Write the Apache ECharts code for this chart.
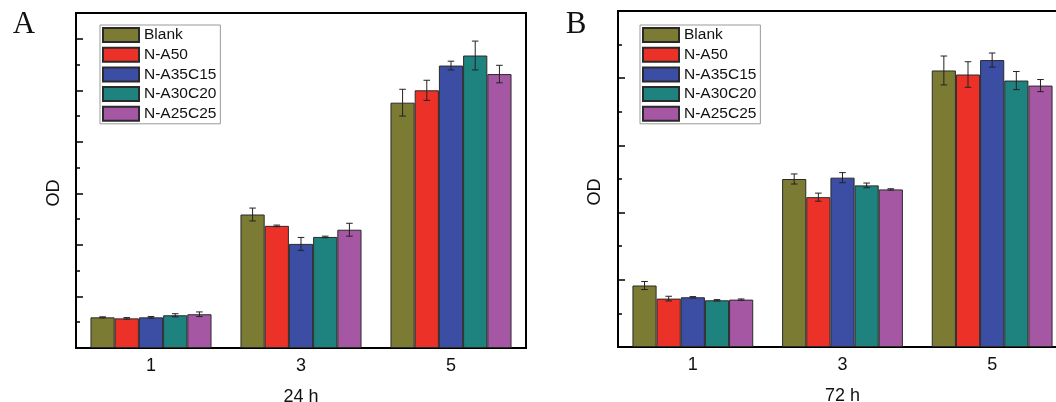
<!DOCTYPE html>
<html><head><meta charset="utf-8">
<script src="https://cdn.jsdelivr.net/npm/echarts@6/dist/echarts.min.js"></script>
<style>html,body{margin:0;padding:0;background:#fff}#c{width:1056px;height:402px}</style>
</head><body><div id="c"></div>
<script>
// ---- data ----
const days = ['1', '3', '5'];
const groupNames = ['Blank', 'N-A50', 'N-A35C15', 'N-A30C20', 'N-A25C25'];
const panelLabels = ['A', 'B'];
const xNames = ['24 h', '72 h'];
const yName = 'OD';

// Panel A (24 h) – OD values
const blank24 = [0.119, 0.518, 0.952];
const a50_24 = [0.115, 0.474, 1.000];
const a35c15_24 = [0.119, 0.404, 1.096];
const a30c20_24 = [0.127, 0.431, 1.135];
const a25c25_24 = [0.131, 0.459, 1.063];
const blank24Err = [0.002, 0.025, 0.052];
const a50_24Err = [0.003, 0.003, 0.039];
const a35c15_24Err = [0.003, 0.025, 0.017];
const a30c20_24Err = [0.006, 0.003, 0.056];
const a25c25_24Err = [0.009, 0.025, 0.034];

// Panel B (72 h) – OD values
const blank72 = [0.183, 0.500, 0.823];
const a50_72 = [0.144, 0.446, 0.811];
const a35c15_72 = [0.148, 0.504, 0.854];
const a30c20_72 = [0.139, 0.481, 0.793];
const a25c25_72 = [0.141, 0.469, 0.778];
const blank72Err = [0.012, 0.015, 0.043];
const a50_72Err = [0.007, 0.012, 0.038];
const a35c15_72Err = [0.002, 0.015, 0.021];
const a30c20_72Err = [0.002, 0.007, 0.027];
const a25c25_72Err = [0.002, 0.002, 0.018];

const vals24 = [blank24, a50_24, a35c15_24, a30c20_24, a25c25_24];
const errs24 = [blank24Err, a50_24Err, a35c15_24Err, a30c20_24Err, a25c25_24Err];
const vals72 = [blank72, a50_72, a35c15_72, a30c20_72, a25c25_72];
const errs72 = [blank72Err, a50_72Err, a35c15_72Err, a30c20_72Err, a25c25_72Err];

// ---- style ----
const colors = ['#7b7b34', '#ec3228', '#3b4ea4', '#1e827e', '#a657a3'];
const FONT = '"Liberation Sans", Arial, sans-serif';
const GAP = 0.193;
const N = groupNames.length;

const chart = echarts.init(document.getElementById('c'), null, {renderer: 'canvas'});

function errRender(k) {
  return function (params, api) {
    const x = api.value(0), v = api.value(1), e = api.value(2);
    const catW = api.size([1, 0])[0];
    const barW = catW * (1 - GAP) / N;
    const off = (k - (N - 1) / 2) * barW;
    const top = api.coord([x, v + e]);
    const bot = api.coord([x, v - e]);
    const cx = top[0] + off, hw = 3.3;
    const st = {stroke: '#222', lineWidth: 1};
    return {type: 'group', children: [
      {type: 'line', shape: {x1: cx, y1: top[1], x2: cx, y2: bot[1]}, style: st},
      {type: 'line', shape: {x1: cx - hw, y1: top[1], x2: cx + hw, y2: top[1]}, style: st},
      {type: 'line', shape: {x1: cx - hw, y1: bot[1], x2: cx + hw, y2: bot[1]}, style: st}
    ]};
  };
}

const grids = [
  {left: 76, top: 13, width: 450, height: 335},
  {left: 618, top: 11, width: 449, height: 336}
];
const maxes = [1.3, 1.0];
const legendLefts = [100, 640];

const xAxes = [], yAxes = [], series = [], legends = [];
[0, 1].forEach(p => {
  xAxes.push({
    type: 'category', gridIndex: p, data: days, boundaryGap: true,
    axisLine: {lineStyle: {color: '#000', width: 2}},
    axisTick: {show: false},
    axisLabel: {color: '#111', fontSize: 18, fontFamily: FONT, margin: 9},
    name: xNames[p], nameLocation: 'middle', nameGap: 40,
    nameTextStyle: {color: '#111', fontSize: 18, fontFamily: FONT}
  });
  // minor ticks axis (every 0.1)
  yAxes.push({
    type: 'value', gridIndex: p, min: 0, max: maxes[p], interval: 0.1,
    axisLine: {show: true, lineStyle: {color: '#000', width: 2}},
    axisTick: {show: true, inside: true, length: 4, lineStyle: {color: '#000', width: 1.5}},
    axisLabel: {show: false}, splitLine: {show: false}
  });
  // major ticks axis (every 0.2)
  yAxes.push({
    type: 'value', gridIndex: p, min: 0, max: maxes[p], interval: 0.2, position: 'left',
    axisLine: {show: false},
    axisTick: {show: true, inside: true, length: 7, lineStyle: {color: '#000', width: 1.5}},
    axisLabel: {show: false}, splitLine: {show: false}
  });
  const vals = p === 0 ? vals24 : vals72;
  const errs = p === 0 ? errs24 : errs72;
  groupNames.forEach((name, k) => {
    series.push({
      type: 'bar', name: name, xAxisIndex: p, yAxisIndex: p * 2,
      data: vals[k], barGap: '0%', barCategoryGap: (GAP * 100) + '%',
      itemStyle: {color: colors[k], borderColor: '#2a2a2a', borderWidth: 1},
      emphasis: {disabled: true}, animation: false
    });
  });
  groupNames.forEach((name, k) => {
    series.push({
      type: 'custom', name: name + ' error', xAxisIndex: p, yAxisIndex: p * 2, z: 5,
      renderItem: errRender(k), encode: {x: 0, y: 1},
      data: vals[k].map((v, i) => [i, v, errs[k][i]]), animation: false, silent: true
    });
  });
  legends.push({
    data: groupNames, left: legendLefts[p], top: 25, orient: 'vertical',
    itemWidth: 36, itemHeight: 14, itemGap: 3.7, icon: 'rect',
    padding: [2, 4, 2, 2], borderColor: '#999', borderWidth: 1,
    selectedMode: false,
    textStyle: {color: '#111', fontSize: 15.5, fontFamily: FONT, lineHeight: 16}
  });
});

const option = {
  backgroundColor: '#fff',
  animation: false,
  grid: grids.map(g => Object.assign({show: true, borderColor: '#000', borderWidth: 2, backgroundColor: 'transparent', containLabel: false, outerBoundsMode: 'none'}, g)),
  xAxis: xAxes, yAxis: yAxes, series: series, legend: legends,
  graphic: [
    {type: 'text', x: 24, y: 25, style: {text: panelLabels[0], font: '31px "Liberation Serif", "Times New Roman", serif', fill: '#111', textAlign: 'center', textVerticalAlign: 'middle'}},
    {type: 'text', x: 576, y: 25, style: {text: panelLabels[1], font: '31px "Liberation Serif", "Times New Roman", serif', fill: '#111', textAlign: 'center', textVerticalAlign: 'middle'}},
    {type: 'text', x: 54, y: 193, rotation: Math.PI / 2, style: {text: yName, font: '18px ' + FONT, fill: '#111', textAlign: 'center', textVerticalAlign: 'middle'}},
    {type: 'text', x: 595, y: 192, rotation: Math.PI / 2, style: {text: yName, font: '18px ' + FONT, fill: '#111', textAlign: 'center', textVerticalAlign: 'middle'}}
  ]
};
chart.setOption(option);
</script></body></html>
